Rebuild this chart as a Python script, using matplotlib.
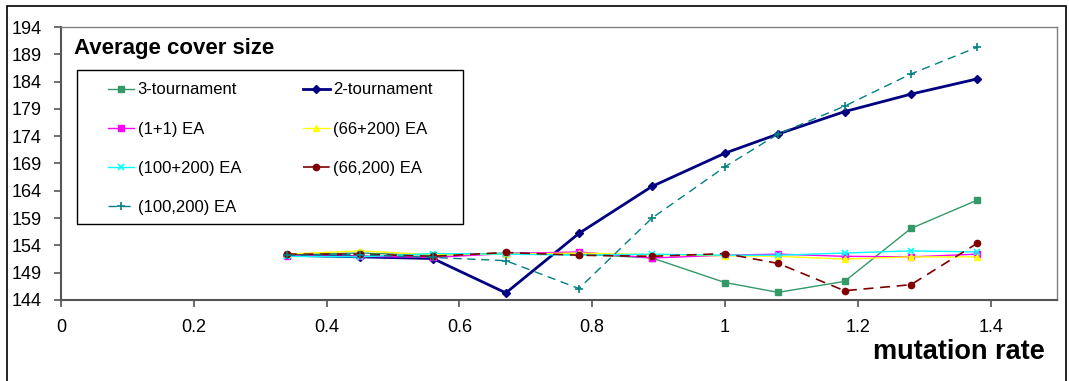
import matplotlib.pyplot as plt
from matplotlib.patches import Rectangle
from matplotlib.ticker import FormatStrFormatter

plt.rcParams['font.family'] = ['Liberation Sans', 'DejaVu Sans']

# mutation rates and average cover size per algorithm
rates = [0.34, 0.45, 0.56, 0.67, 0.78, 0.89, 1.0, 1.08, 1.18, 1.28, 1.38]
tourn3 = [152.3, 152.6, 152.2, 152.6, 152.4, 151.7, 147.2, 145.4, 147.4, 157.1, 162.3]
tourn2 = [152.2, 151.9, 151.6, 145.3, 156.2, 164.8, 170.9, 174.4, 178.5, 181.7, 184.5]
ea_1p1 = [152.1, 152.0, 151.8, 152.5, 152.8, 151.7, 152.2, 152.4, 152.0, 151.9, 152.4]
ea_66p200 = [152.4, 153.0, 152.3, 152.4, 152.6, 152.3, 152.1, 152.0, 151.5, 151.9, 151.9]
ea_100p200 = [152.0, 151.9, 152.5, 152.4, 152.2, 152.4, 152.2, 152.2, 152.6, 153.0, 152.8]
ea_66c200 = [152.4, 152.4, 152.0, 152.7, 152.2, 152.0, 152.5, 150.7, 145.7, 146.8, 154.4]
ea_100c200 = [152.2, 152.3, 151.8, 151.2, 146.1, 159.0, 168.4, 174.4, 179.5, 185.4, 190.3]

W, H = 1069, 381
fig = plt.figure(figsize=(W / 100, H / 100), dpi=100)
ax = fig.add_axes([61 / W, (H - 300) / H, 996 / W, 273 / H])

l3, = ax.plot(rates, tourn3, color='#339966', lw=1, marker='s', ms=4.5, label='3-tournament')
l2, = ax.plot(rates, tourn2, color='#000080', lw=2, marker='D', ms=4.5, label='2-tournament')
l11, = ax.plot(rates, ea_1p1, color='#FF00FF', lw=1, marker='s', ms=4.5, label='(1+1) EA')
l66p, = ax.plot(rates, ea_66p200, color='#FFFF00', lw=1, marker='^', ms=5, label='(66+200) EA')
l100p, = ax.plot(rates, ea_100p200, color='#00FFFF', lw=1, marker='x', ms=5, mew=1.2,
                 label='(100+200) EA')
l66c, = ax.plot(rates, ea_66c200, color='#800000', lw=1.2, ls=(0, (6, 4)), marker='o', ms=4.5,
                label='(66,200) EA')
l100c, = ax.plot(rates, ea_100c200, color='#008080', lw=1, ls=(0, (6, 4)), marker='+', ms=6,
                 mew=1.2, label='(100,200) EA')

ax.set_xlim(0, 1.5)
ax.set_ylim(144, 194)
ax.set_xticks([0, 0.2, 0.4, 0.6, 0.8, 1.0, 1.2, 1.4])
ax.xaxis.set_major_formatter(FormatStrFormatter('%g'))
ax.set_yticks(range(144, 195, 5))
ax.tick_params(axis='both', labelsize=13, length=5, width=1.2, color='#555555')
ax.tick_params(axis='y', pad=9)
ax.tick_params(axis='x', pad=9)

for side in ['left', 'bottom']:
    ax.spines[side].set_color('#555555')
    ax.spines[side].set_linewidth(1.5)
for side in ['top', 'right']:
    ax.spines[side].set_color('#808080')
    ax.spines[side].set_linewidth(1)

ax.text(0.013, 0.923, 'Average cover size', transform=ax.transAxes,
        fontsize=16, fontweight='bold', va='center', ha='left')

# legend box drawn by hand, entries filled row by row like the original
ax.add_patch(Rectangle((0.016, 0.278), 0.3876, 0.564, transform=ax.transAxes,
                       fill=True, fc='white', ec='black', lw=1, zorder=4))
order = [l3, l11, l100p, l100c, l2, l66p, l66c]
leg = ax.legend(handles=order, loc='upper left', bbox_to_anchor=(0.047, 0.797), ncol=2,
                frameon=False, fontsize=12, borderpad=0, labelspacing=1.45, handlelength=1.6,
                handletextpad=0.2, columnspacing=3.7, borderaxespad=0)
leg.set_zorder(5)

fig.text(1045 / W, 1 - 352 / H, 'mutation rate', fontsize=19.5, fontweight='bold',
         ha='right', va='center')

fig.add_artist(Rectangle((7 / W, -0.1), (1066 - 7) / W, 1.1 - 6 / H,
                         transform=fig.transFigure, fill=False, ec='black', lw=1.2))

fig.savefig('out.png', dpi=100)
